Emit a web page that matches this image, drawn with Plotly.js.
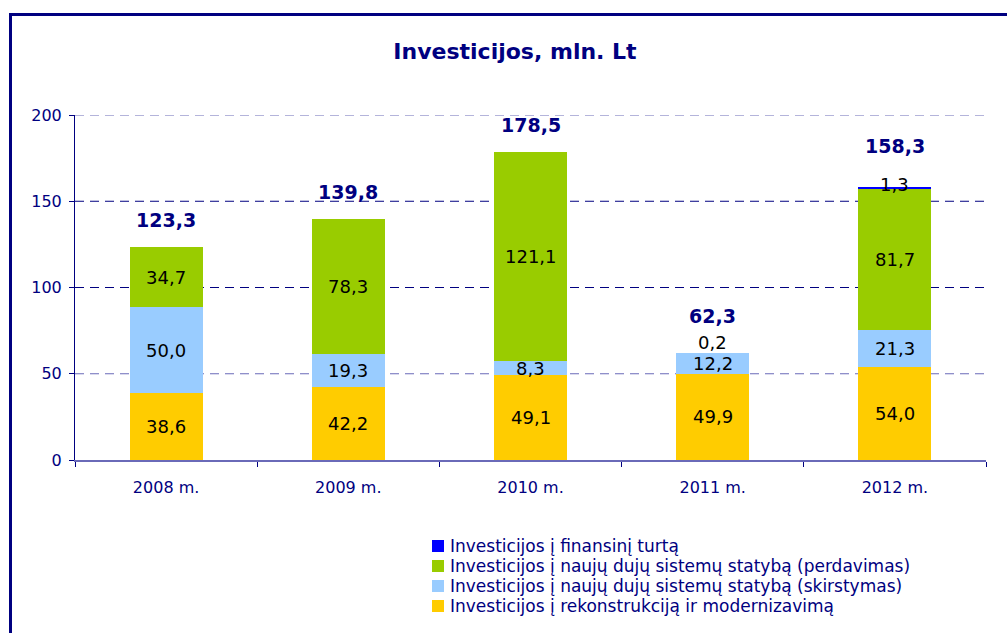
<!DOCTYPE html>
<html>
<head>
<meta charset="utf-8">
<script src="https://cdn.plot.ly/plotly-3.0.1.min.js"></script>
<style>
  html, body { margin: 0; padding: 0; background: #ffffff; }
  #wrap { position: relative; width: 1007px; height: 633px; overflow: hidden; }
  #chart { position: absolute; left: 0; top: 0; width: 1007px; height: 633px; }
  #frame { position: absolute; left: 9px; top: 13px; width: 1100px; height: 700px;
           border-top: 3px solid #000080; border-left: 3px solid #000080; pointer-events: none; }
</style>
</head>
<body>
<div id="wrap"><div id="chart"></div><div id="frame"></div></div>
<script>
// ---- data ----
const categories = ['2008 m.', '2009 m.', '2010 m.', '2011 m.', '2012 m.'];
const seriesNames = [
  'Investicijos į rekonstrukciją ir modernizavimą',
  'Investicijos į naujų dujų sistemų statybą (skirstymas)',
  'Investicijos į naujų dujų sistemų statybą (perdavimas)',
  'Investicijos į finansinį turtą'
];
const reconstruction = [38.6, 42.2, 49.1, 49.9, 54.0];
const distribution   = [50.0, 19.3, 8.3, 12.2, 21.3];
const transmission   = [34.7, 78.3, 121.1, 0.2, 81.7];
const financial      = [0, 0, 0, 0, 1.3];
const yTicks = [0, 50, 100, 150, 200];

// ---- styles ----
const colors = ['#FFCC00', '#99CCFF', '#99CC00', '#0000FF'];
const navy = '#000080';
const FONT = 'DejaVu Sans';
const series = [reconstruction, distribution, transmission, financial];

// plot area in pixels (for paper conversions of the hand-drawn legend)
const L = 75, R = 21, T = 115, B = 173, W = 1007, H = 633;
const pw = W - L - R, ph = H - T - B;
const px2paperX = p => (p - L) / pw;
const px2paperY = p => (H - B - p) / ph;

const fmt = v => v.toFixed(1).replace('.', ',');

const traces = series.map((vals, i) => ({
  type: 'bar',
  x: categories,
  y: vals,
  name: seriesNames[i],
  marker: { color: colors[i], line: { width: 0 } },
  showlegend: false,
  hoverinfo: 'x+y+name'
}));

const annotations = [];
const shapes = [];

// segment labels
const segShift = { '3-2': 10, '4-3': 4 }; // small segments lifted for legibility
categories.forEach((c, ci) => {
  let base = 0;
  series.forEach((vals, si) => {
    const v = vals[ci];
    if (v > 0) {
      annotations.push({
        x: c, y: base + v / 2, xref: 'x', yref: 'y',
        text: fmt(v), showarrow: false,
        yshift: segShift[ci + '-' + si] || 0,
        font: { family: FONT, size: 18, color: '#000000' }
      });
    }
    base += v;
  });
});

// totals
const totalLift = [14, 14, 14, 24, 28];
categories.forEach((c, ci) => {
  const tot = series.reduce((s, vals) => s + vals[ci], 0);
  annotations.push({
    x: c, y: tot, xref: 'x', yref: 'y', yanchor: 'bottom',
    text: '<b>' + fmt(tot) + '</b>', showarrow: false,
    yshift: totalLift[ci],
    font: { family: FONT, size: 19, color: navy }
  });
});

// gridlines
const gridColor = { 50: '#6a6ab8', 100: navy, 150: navy, 200: '#6a6ab8' };
yTicks.filter(t => t > 0).forEach(t => {
  shapes.push({
    type: 'line', xref: 'paper', yref: 'y', x0: 0, x1: 1, y0: t, y1: t,
    line: { color: gridColor[t], width: 1, dash: '9px,6px' }, layer: 'below'
  });
});

// legend (top entry = last series)
const legendRows = [546, 566, 586, 606];
[3, 2, 1, 0].forEach((si, k) => {
  const cy = legendRows[k];
  shapes.push({
    type: 'rect', xref: 'paper', yref: 'paper',
    x0: px2paperX(432), x1: px2paperX(444),
    y0: px2paperY(cy + 6), y1: px2paperY(cy - 6),
    fillcolor: colors[si], line: { width: 0 }
  });
  annotations.push({
    xref: 'paper', yref: 'paper', x: px2paperX(449), y: px2paperY(cy),
    xanchor: 'left', yanchor: 'middle', showarrow: false,
    text: seriesNames[si], borderpad: 0,
    font: { family: FONT, size: 17, color: navy }
  });
});

const layout = {
  width: W, height: H,
  margin: { l: L, r: R, t: T, b: B, pad: 0 },
  paper_bgcolor: '#ffffff', plot_bgcolor: '#ffffff',
  barmode: 'stack', bargap: 0.6,
  showlegend: false,
  font: { family: FONT, color: navy },
  title: {
    text: '<b>Investicijos, mln. Lt</b>',
    font: { family: FONT, size: 22, color: navy },
    x: 515 / W, xref: 'container', xanchor: 'center',
    y: 1 - 51 / H, yref: 'container', yanchor: 'middle'
  },
  xaxis: {
    type: 'category',
    showgrid: false, zeroline: false,
    showline: true, linecolor: '#6a6ab8', linewidth: 2,
    ticks: 'outside', tickson: 'boundaries', ticklen: 5, tickcolor: navy, tickwidth: 1,
    ticklabelstandoff: 12,
    tickfont: { family: FONT, size: 16, color: navy }
  },
  yaxis: {
    range: [0, 200], tickvals: yTicks, ticktext: yTicks.map(String),
    showgrid: false, zeroline: false,
    showline: true, linecolor: navy, linewidth: 1,
    ticks: 'outside', ticklen: 5, tickcolor: navy,
    ticklabelstandoff: 4,
    tickfont: { family: FONT, size: 16, color: navy }
  },
  shapes: shapes,
  annotations: annotations
};

Plotly.newPlot('chart', traces, layout, { displayModeBar: false, staticPlot: true });
</script>
</body>
</html>
